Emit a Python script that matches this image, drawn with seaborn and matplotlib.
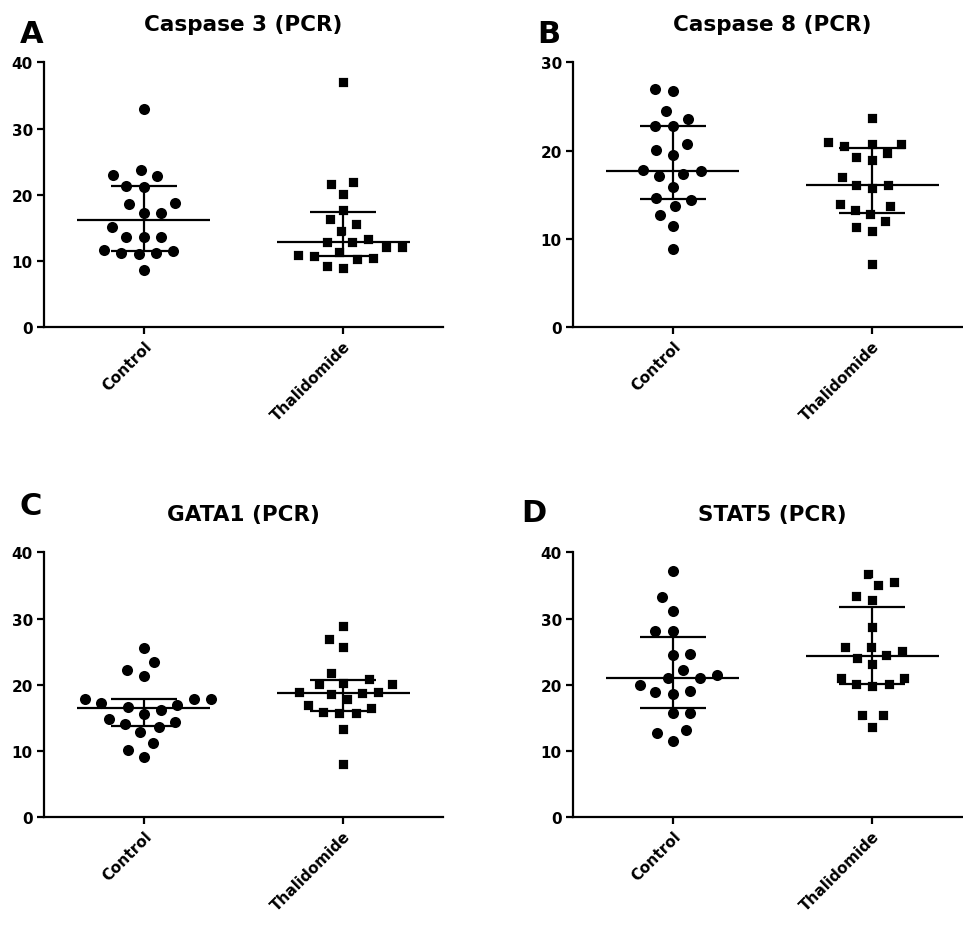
import numpy as np
import pandas as pd
import matplotlib
matplotlib.use("Agg")
import matplotlib.pyplot as plt
import seaborn as sns

# ---------------- data ----------------
groups = ["Control", "Thalidomide"]
titles = ["Caspase 3 (PCR)", "Caspase 8 (PCR)", "GATA1 (PCR)", "STAT5 (PCR)"]
letters = ["A", "B", "C", "D"]
ymax = [40, 30, 40, 40]

casp3_control = [33.0, 23.8, 22.8, 23.0, 21.2, 21.3, 18.8, 18.6, 17.2, 17.2,
                 15.2, 13.7, 13.7, 13.7, 11.6, 11.5, 11.2, 11.1, 11.2, 8.7]
casp3_thal = [37.1, 22.0, 21.7, 20.1, 17.7, 16.35, 15.6, 14.6, 13.3, 12.83,
              12.83, 12.1, 12.1, 11.3, 10.8, 10.3, 10.5, 10.9, 9.0, 9.3]

casp8_control = [27.0, 26.8, 24.5, 23.6, 22.75, 22.83, 20.7, 20.1, 19.55, 17.7,
                 17.8, 17.1, 17.4, 15.9, 14.6, 14.45, 13.7, 12.75, 11.5, 8.9]
casp8_thal = [23.7, 21.0, 20.7, 20.7, 20.5, 19.7, 19.3, 18.9, 17.0, 16.15,
              16.15, 15.8, 14.0, 13.7, 13.3, 12.8, 12.0, 11.3, 10.9, 7.2]

gata1_control = [25.5, 23.4, 22.2, 21.4, 17.9, 17.86, 17.86, 17.2, 16.7, 17.0,
                 16.25, 15.65, 14.9, 14.4, 14.1, 13.6, 12.9, 11.2, 10.1, 9.1]
gata1_thal = [28.9, 26.9, 25.7, 21.8, 20.9, 20.2, 20.1, 20.1, 18.9, 18.8,
              18.6, 18.87, 17.8, 16.9, 16.55, 15.9, 15.7, 15.8, 13.4, 8.0]

stat5_control = [37.2, 33.2, 31.2, 28.1, 28.1, 24.5, 24.6, 22.2, 21.5, 21.1,
                 21.0, 20.0, 18.9, 18.6, 19.0, 15.7, 15.7, 13.2, 12.7, 11.5]
stat5_thal = [36.8, 35.5, 35.0, 33.4, 32.8, 28.7, 25.7, 25.7, 25.1, 24.55,
              24.0, 23.2, 21.1, 21.1, 20.1, 20.1, 19.8, 15.5, 15.5, 13.7]

panels = [
    (casp3_control, casp3_thal),
    (casp8_control, casp8_thal),
    (gata1_control, gata1_thal),
    (stat5_control, stat5_thal),
]

# ---------------- style ----------------
sns.set_theme(style="ticks")
plt.rcParams["font.family"] = ["DejaVu Sans"]
plt.rcParams["font.weight"] = "bold"
plt.rcParams["axes.titleweight"] = "bold"

W, H = 963, 929
fig = plt.figure(figsize=(W / 100, H / 100), dpi=100)

# axes rectangles in pixels: (left, top, width, height)
rects = [(44, 63.3, 399, 265), (573, 63.3, 399, 265),
         (44, 553.3, 399, 265), (573, 553.3, 399, 265)]
letter_pos = [(32, 43), (549, 43), (31, 515), (534, 522)]

for k, (ctrl, thal) in enumerate(panels):
    l, t, w, h = rects[k]
    ax = fig.add_axes([l / W, 1 - (t + h) / H, w / W, h / H])
    # white edge ring widens the swarm spacing like the original layout
    sns.swarmplot(x=["Control"] * len(ctrl), y=ctrl, order=groups, ax=ax,
                  color="black", marker="o", size=10.0, linewidth=2.0,
                  edgecolor="white")
    sns.swarmplot(x=["Thalidomide"] * len(thal), y=thal, order=groups, ax=ax,
                  color="black", marker="s", size=9.3, linewidth=2.0,
                  edgecolor="white")
    for i, vals in enumerate((ctrl, thal)):
        q1, med, q3 = np.percentile(vals, [25, 50, 75], method="weibull")
        ax.hlines(med, i - 0.333, i + 0.333, color="black", lw=1.6, zorder=5)
        ax.hlines([q1, q3], i - 0.165, i + 0.165, color="black", lw=1.6, zorder=5)
        ax.vlines(i, q1, q3, color="black", lw=1.6, zorder=5)

    ax.set_xlim(-0.5, 1.5)
    ax.set_ylim(0, ymax[k])
    ax.set_yticks(np.arange(0, ymax[k] + 1, 10))
    ax.set_xlabel("")
    ax.set_ylabel("")
    for s in ["top", "right"]:
        ax.spines[s].set_visible(False)
    for s in ["left", "bottom"]:
        ax.spines[s].set_linewidth(1.6)
        ax.spines[s].set_color("black")
        ax.spines[s].set_zorder(6)
    ax.tick_params(axis="both", width=1.6, length=5, color="black",
                   labelsize=11, labelcolor="black", pad=3)
    ax.set_xticks([0, 1])
    ax.set_xticklabels(groups, rotation=45, ha="right",
                       rotation_mode="anchor", fontweight="bold", fontsize=11)
    for lab in ax.get_yticklabels():
        lab.set_fontweight("bold")
    ax.set_title(titles[k], fontsize=15.5, fontweight="bold", pad=23, color="black")
    lx, ly = letter_pos[k]
    fig.text(lx / W, 1 - ly / H, letters[k], fontsize=22, fontweight="bold",
             ha="center", va="baseline", color="black")

fig.savefig("out.png", dpi=100, facecolor="white")
